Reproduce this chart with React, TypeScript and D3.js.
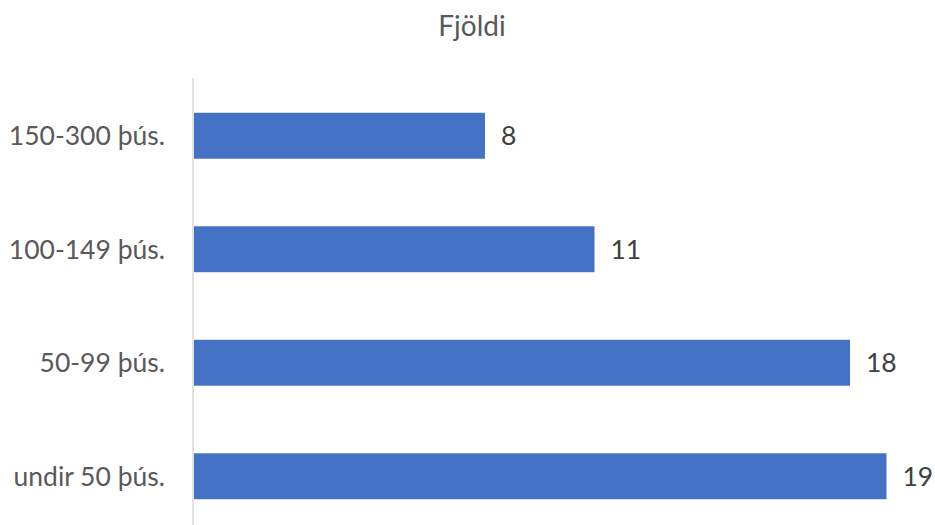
import React, { useRef, useEffect } from "react";
import * as d3 from "d3";

// categories top to bottom, and their counts
const categories = ["150-300 þús.", "100-149 þús.", "50-99 þús.", "undir 50 þús."];
const counts = [8, 11, 18, 19];
const title = "Fjöldi";

export default function App() {
  const ref = useRef<SVGSVGElement | null>(null);
  const width = 935, height = 525;
  const margin = { top: 79, left: 193 };

  useEffect(() => {
    const svg = d3.select(ref.current);
    svg.selectAll("*").remove();
    const font = "Lato, 'Open Sans', sans-serif";

    const x = d3.scaleLinear().domain([0, 1]).range([margin.left, margin.left + 36.5]);
    const y = d3.scaleBand<string>()
      .domain(categories)
      .range([margin.top, margin.top + 454])
      .paddingInner(0.595)
      .paddingOuter(0.2975);

    const data = categories.map((c, i) => ({ name: c, value: counts[i] }));

    // bars
    svg.selectAll(".bar")
      .data(data)
      .join("rect")
      .attr("x", x(0) + 1)
      .attr("y", d => y(d.name)!)
      .attr("width", d => x(d.value) - x(0) - 1)
      .attr("height", y.bandwidth())
      .attr("fill", "#4472c4");

    // value axis line
    svg.append("line")
      .attr("x1", x(0)).attr("x2", x(0))
      .attr("y1", 78).attr("y2", height)
      .attr("stroke", "#d9d9d9")
      .attr("stroke-width", 1.5);

    // category labels
    svg.selectAll(".cat")
      .data(data)
      .join("text")
      .attr("x", 165)
      .attr("y", d => y(d.name)! + y.bandwidth() / 2)
      .attr("dy", "0.35em")
      .attr("text-anchor", "end")
      .attr("font-family", font)
      .attr("font-size", 26.5)
      .attr("fill", "#595959")
      .text(d => d.name);

    // value labels
    svg.selectAll(".val")
      .data(data)
      .join("text")
      .attr("x", d => x(d.value) + 16)
      .attr("y", d => y(d.name)! + y.bandwidth() / 2)
      .attr("dy", "0.35em")
      .attr("font-family", font)
      .attr("font-size", 26.5)
      .attr("fill", "#404040")
      .text(d => d.value);

    // title
    svg.append("text")
      .attr("x", 472)
      .attr("y", 36)
      .attr("text-anchor", "middle")
      .attr("font-family", font)
      .attr("font-size", 28)
      .attr("fill", "#595959")
      .text(title);
  }, []);

  return (
    <div style={{ position: "absolute", left: 0, top: 0 }}>
      <svg ref={ref} width={width} height={height} style={{ display: "block", background: "#fff" }} />
    </div>
  );
}
